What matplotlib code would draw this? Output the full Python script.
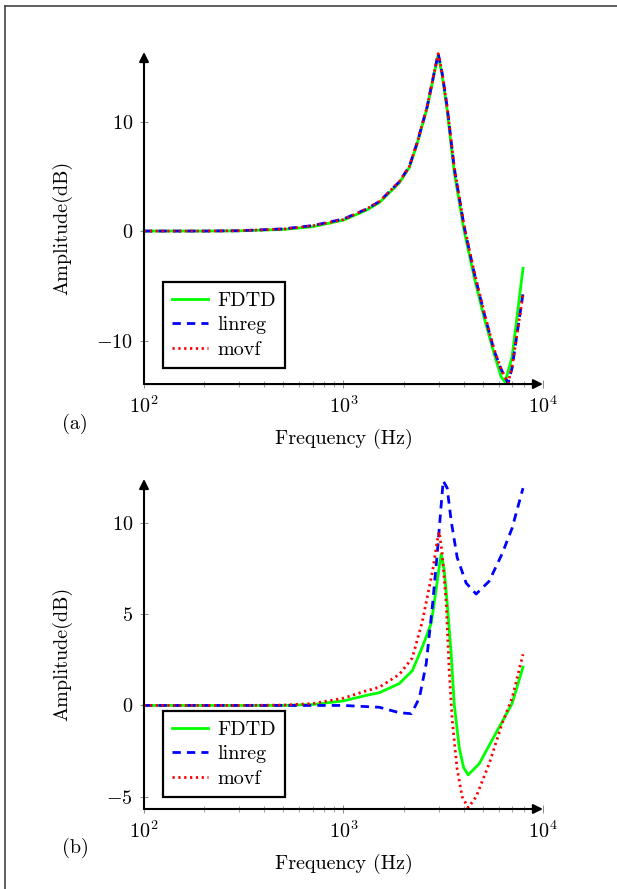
import matplotlib
matplotlib.use('Agg')
import matplotlib.pyplot as plt
from matplotlib.lines import Line2D

plt.rcParams['font.family'] = ['cmr10']
plt.rcParams['mathtext.fontset'] = 'cm'
plt.rcParams['axes.formatter.use_mathtext'] = True
plt.rcParams['font.size'] = 14.5

# (a) amplitude responses
f_fdtd_a = [100, 200, 300, 500, 700, 1000, 1300, 1514, 1905, 2138, 2344, 2630, 2851, 2985,
            3126, 3311, 3589, 4027, 4519, 5070, 5689, 6166, 6457, 7000, 7943]
fdtd_a = [0, 0, 0.02, 0.15, 0.4, 1.0, 1.9, 2.6, 4.4, 5.8, 8.0, 11.3, 14.4, 16.1,
          14.2, 11.0, 5.4, 0.0, -4.2, -7.9, -11.2, -13.3, -13.8, -11.5, -3.4]
f_lin_a = [100, 200, 300, 500, 700, 1000, 1300, 1514, 1905, 2138, 2344, 2630, 2851, 2985,
           3126, 3311, 3589, 4027, 4519, 5070, 5689, 6166, 6683, 7000, 7943]
linreg_a = [0, 0, 0.03, 0.2, 0.5, 1.1, 2.0, 2.7, 4.5, 5.9, 8.1, 11.4, 14.5, 16.2,
            14.4, 11.3, 5.8, 0.4, -3.8, -7.5, -10.9, -12.6, -13.9, -12.5, -5.7]
f_movf_a = [100, 200, 300, 500, 700, 1000, 1300, 1514, 1905, 2138, 2344, 2630, 2851, 2985,
            3126, 3311, 3589, 4027, 4519, 5070, 5689, 6166, 6683, 7000, 7943]
movf_a = [0, 0, 0.03, 0.18, 0.48, 1.05, 2.0, 2.7, 4.5, 5.9, 8.1, 11.4, 14.5, 16.2,
          14.4, 11.3, 5.9, 0.5, -3.7, -7.4, -10.8, -12.6, -13.9, -12.4, -5.8]

# (b) amplitude responses
f_fdtd_b = [100, 300, 500, 700, 1000, 1300, 1514, 1905, 2213, 2485, 2754, 2917, 3020, 3090,
            3200, 3311, 3467, 3589, 3802, 4000, 4217, 4786, 5821, 7000, 7943]
fdtd_b = [0, 0, 0, 0.05, 0.25, 0.55, 0.7, 1.2, 1.9, 3.2, 4.5, 6.4, 7.6, 8.3,
          7.4, 5.6, 2.8, 0.1, -2.3, -3.4, -3.8, -3.2, -1.5, 0.1, 2.1]
f_lin_b = [100, 300, 500, 700, 1000, 1514, 1905, 2188, 2400, 2600, 2800, 2950, 3090, 3162,
           3311, 3467, 3715, 4120, 4624, 5370, 6237, 7000, 7943]
linreg_b = [0, 0, 0, 0, 0, -0.1, -0.4, -0.45, 0.4, 2.3, 5.6, 8.3, 11.0, 12.3,
            11.9, 10.1, 8.1, 6.7, 6.1, 6.8, 8.3, 9.7, 11.9]
f_movf_b = [100, 300, 500, 700, 1000, 1300, 1514, 1905, 2213, 2485, 2800, 2950, 3020, 3126,
            3273, 3388, 3508, 3715, 3936, 4217, 4624, 5370, 6237, 7000, 7943]
movf_b = [0, 0, 0.02, 0.1, 0.4, 0.8, 1.0, 1.7, 2.6, 4.6, 7.4, 9.0, 9.5, 8.3,
          5.6, 1.9, -0.8, -3.5, -5.0, -5.6, -5.0, -3.2, -1.0, 0.4, 2.8]

labels = ['FDTD', 'linreg', 'movf']


def style_axis(ax, ylim, yticks):
    ax.set_xscale('log')
    ax.set_xlim(100, 1e4)
    ax.set_ylim(*ylim)
    ax.set_yticks(yticks)
    for s in ax.spines.values():
        s.set_visible(False)
    ak = dict(arrowstyle='-|>', lw=1.5, color='black', mutation_scale=14,
              shrinkA=0, shrinkB=0)
    ax.annotate('', xy=(1, 0), xytext=(0, 0), xycoords='axes fraction', arrowprops=ak)
    ax.annotate('', xy=(0, 1), xytext=(0, 0), xycoords='axes fraction', arrowprops=ak)
    ax.tick_params(which='major', direction='inout', length=6, width=0.6, color='#777777', pad=5)
    ax.tick_params(which='minor', direction='inout', length=4, width=0.5, color='#777777')
    ax.tick_params(axis='y', which='minor', left=False)
    ax.set_xlabel('Frequency (Hz)')
    ax.set_ylabel('Amplitude(dB)')
    ax.yaxis.set_label_coords(-0.18, 0.47)


def draw(ax, data, leg_y):
    (f1, y1), (f2, y2), (f3, y3) = data
    ax.plot(f1, y1, color='#00ff00', lw=2.0, label=labels[0], clip_on=False)
    ax.plot(f2, y2, color='#0000ff', lw=2.0, ls=(0, (3, 2.2)), label=labels[1], clip_on=False)
    ax.plot(f3, y3, color='#ff0000', lw=2.0, ls=(0, (0.8, 1.3)), label=labels[2], clip_on=False)
    leg = ax.legend(loc='lower left', bbox_to_anchor=(0.048, leg_y), borderaxespad=0,
                    fancybox=False, framealpha=1, edgecolor='black', handlelength=1.8,
                    handletextpad=0.45, labelspacing=0.33, borderpad=0.45, fontsize=14.5)
    leg.get_frame().set_linewidth(1.6)


fig = plt.figure(figsize=(6.17, 8.89), dpi=100)

ax1 = fig.add_axes([0.2334, 0.568, 0.6466, 0.3735])
style_axis(ax1, (-13.97, 16.35), [-10, 0, 10])
draw(ax1, [(f_fdtd_a, fdtd_a), (f_lin_a, linreg_a), (f_movf_a, movf_a)], 0.048)
ax1.xaxis.set_label_coords(0.5, -0.135)

ax2 = fig.add_axes([0.2334, 0.090, 0.6466, 0.3712])
style_axis(ax2, (-5.67, 12.4), [-5, 0, 5, 10])
draw(ax2, [(f_fdtd_b, fdtd_b), (f_lin_b, linreg_b), (f_movf_b, movf_b)], 0.036)
ax2.xaxis.set_label_coords(0.5, -0.135)

fig.text(75 / 617, 1 - 424 / 889, '(a)', ha='center', va='center', fontsize=14.5)
fig.text(75 / 617, 1 - 848 / 889, '(b)', ha='center', va='center', fontsize=14.5)

# page frame
fig.add_artist(Line2D([5 / 617, 1.0], [1 - 6 / 889, 1 - 6 / 889], color='#444444', lw=1.2))
fig.add_artist(Line2D([5 / 617, 5 / 617], [0.0, 1 - 6 / 889], color='#444444', lw=1.2))

fig.savefig('out.png', dpi=100)
